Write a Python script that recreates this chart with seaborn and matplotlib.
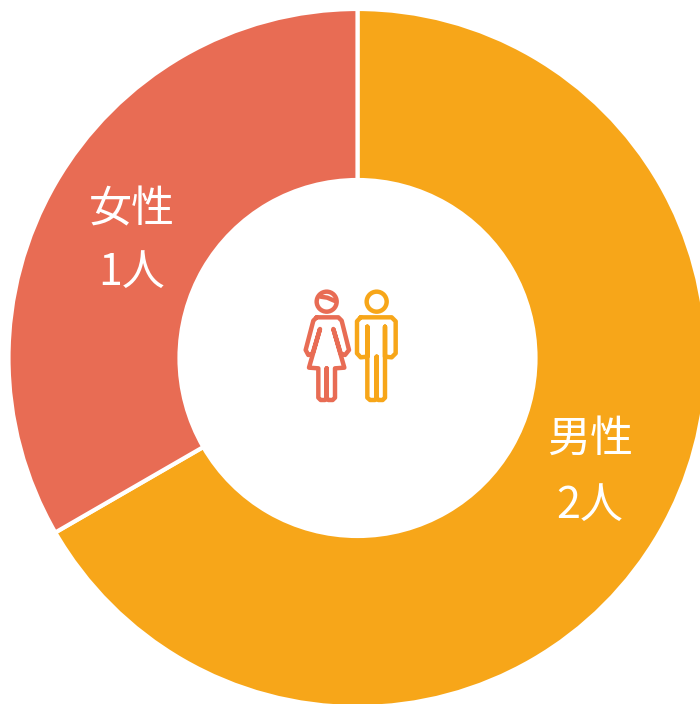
import matplotlib
matplotlib.use('Agg')
import matplotlib.pyplot as plt
from matplotlib.patches import Circle
import seaborn as sns

sns.set_theme(style='white')
plt.rcParams['font.family'] = ['Noto Sans CJK JP', 'DejaVu Sans']

values = [2, 1]
names = ['男性', '女性']
counts = ['2人', '1人']
colors = ['#F7A619', '#E86C54']
name_pos = [(590, 440), (132, 210)]
count_pos = [(590, 506), (132, 273)]

fig = plt.figure(figsize=(7.0, 7.04), dpi=100)
ax = fig.add_axes([0, 0, 1, 1])

# donut, y axis gets flipped below so angles run clockwise
cx, cy, r = 357.5, 358, 349
ax.pie(values, colors=colors, startangle=-90, counterclock=True, center=(cx, cy), radius=r,
       wedgeprops=dict(width=r - 178, edgecolor='white', linewidth=3), frame=False)
ax.set_xlim(0, 700)
ax.set_ylim(704, 0)
ax.set_aspect('equal')
ax.axis('off')

for i in range(len(names)):
    ax.text(name_pos[i][0], name_pos[i][1], names[i], color='white', fontsize=31, ha='center', va='center')
    ax.text(count_pos[i][0], count_pos[i][1], counts[i], color='white', fontsize=31, ha='center', va='center')


# people icon, traced in a 3x crop of the icon area
def icon_line(pts, color, close=False):
    xs = [290 + p[0] / 3 for p in pts]
    ys = [275 + p[1] / 3 for p in pts]
    if close:
        xs.append(xs[0])
        ys.append(ys[0])
    ax.plot(xs, ys, color=color, lw=3.2, solid_joinstyle='round', solid_capstyle='round')


red, orange = colors[1], colors[0]
ax.add_patch(Circle((290 + 110 / 3, 275 + 80 / 3), 10, fill=False, ec=red, lw=3.2))
icon_line([(92, 65), (112, 68), (135, 78)], red)
icon_line([(80, 127), (145, 127), (155, 137), (177, 225), (165, 240), (152, 235), (130, 162),
           (163, 278), (135, 280), (135, 368), (128, 375), (115, 375), (110, 368), (110, 280),
           (110, 368), (105, 375), (92, 375), (85, 368), (85, 280), (57, 278), (90, 162),
           (68, 235), (55, 240), (47, 225), (70, 137)], red, close=True)

ax.add_patch(Circle((290 + 260 / 3, 275 + 80 / 3), 10, fill=False, ec=orange, lw=3.2))
icon_line([(212, 127), (305, 127), (317, 139), (317, 235), (305, 247), (285, 245), (285, 155),
           (285, 368), (278, 375), (265, 375), (260, 368), (260, 245),
           (260, 368), (255, 375), (240, 375), (232, 368), (232, 155), (232, 245), (212, 247),
           (201, 235), (201, 139)], orange, close=True)

fig.savefig('out.png', dpi=100)
